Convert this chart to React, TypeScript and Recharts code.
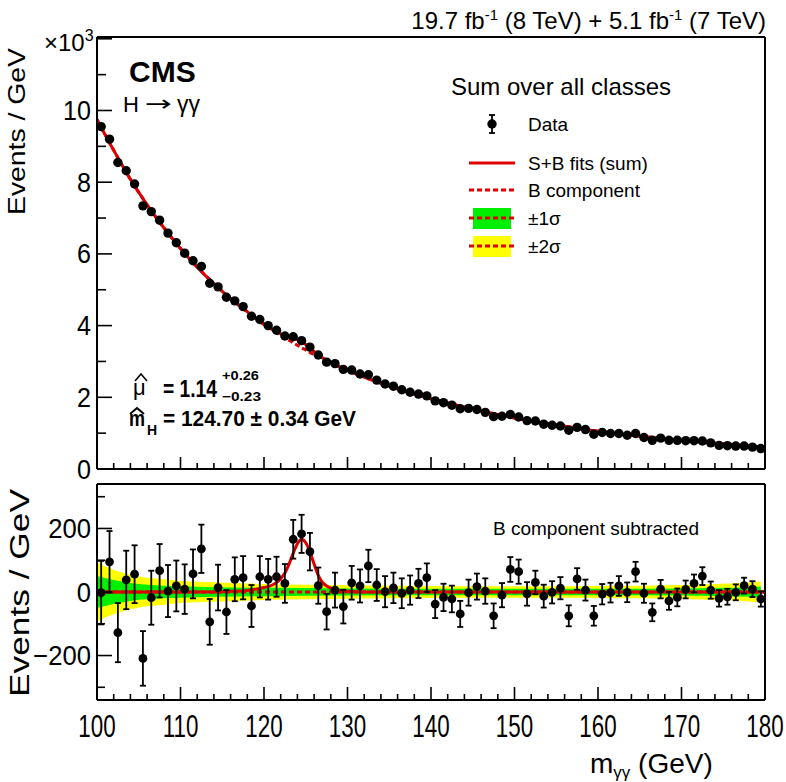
import React from "react";
import { Area, ComposedChart, ErrorBar, Line, Scatter, XAxis, YAxis } from "recharts";

const FONT = "'Liberation Sans', Arial, Helvetica, sans-serif";
const RED = "#dd0000";
const W = 786;
const H = 782;

// bin centres (GeV)
const massBins = [
  100.5, 101.5, 102.5, 103.5, 104.5, 105.5, 106.5, 107.5, 108.5, 109.5,
  110.5, 111.5, 112.5, 113.5, 114.5, 115.5, 116.5, 117.5, 118.5, 119.5,
  120.5, 121.5, 122.5, 123.5, 124.5, 125.5, 126.5, 127.5, 128.5, 129.5,
  130.5, 131.5, 132.5, 133.5, 134.5, 135.5, 136.5, 137.5, 138.5, 139.5,
  140.5, 141.5, 142.5, 143.5, 144.5, 145.5, 146.5, 147.5, 148.5, 149.5,
  150.5, 151.5, 152.5, 153.5, 154.5, 155.5, 156.5, 157.5, 158.5, 159.5,
  160.5, 161.5, 162.5, 163.5, 164.5, 165.5, 166.5, 167.5, 168.5, 169.5,
  170.5, 171.5, 172.5, 173.5, 174.5, 175.5, 176.5, 177.5, 178.5, 179.5,
];

// events / GeV, x10^3
const eventsK = [
  9.55, 9.2, 8.55, 8.32, 7.95, 7.34, 7.18, 6.94, 6.58, 6.31,
  6.02, 5.81, 5.65, 5.18, 5.08, 4.79, 4.69, 4.53, 4.26, 4.17,
  4.0, 3.87, 3.71, 3.69, 3.58, 3.4, 3.18, 2.98, 2.94, 2.78,
  2.76, 2.65, 2.63, 2.48, 2.37, 2.31, 2.21, 2.14, 2.09, 2.04,
  1.9, 1.85, 1.78, 1.68, 1.69, 1.66, 1.58, 1.46, 1.47, 1.52,
  1.45, 1.35, 1.34, 1.25, 1.22, 1.2, 1.08, 1.16, 1.1, 0.97,
  1.02, 0.99, 0.99, 0.94, 0.99, 0.88, 0.8, 0.86, 0.8, 0.8,
  0.79, 0.79, 0.78, 0.73, 0.66, 0.65, 0.64, 0.64, 0.61, 0.57,
];

// data minus B component, events / GeV
const residual = [
  -2, 95, -128, 38, 56, -209, -18, 67, 3, 19,
  9, 57, 136, -94, 14, -63, 40, 45, -44, 48,
  40, 48, 27, 166, 183, 127, 20, -62, 6, -46,
  29, 19, 82, 22, 1, 13, -4, 6, 27, 45,
  -38, -17, -22, -69, -2, 17, 3, -75, -10, 71,
  64, -6, 30, -13, -1, 12, -75, 41, 6, -75,
  -7, -2, 19, -1, 64, -4, -64, 9, -28, -17,
  8, 27, 50, 6, -20, -15, -1, 20, 9, -22,
];

const statErr = [
  100, 97, 93, 92, 91, 86, 85, 84, 82, 80,
  78, 77, 76, 72, 72, 69, 69, 68, 66, 65,
  64, 63, 61, 61, 60, 59, 57, 56, 55, 53,
  53, 52, 51, 50, 49, 48, 47, 46, 46, 45,
  44, 43, 42, 41, 41, 41, 40, 39, 38, 39,
  38, 37, 37, 36, 35, 35, 33, 34, 33, 31,
  32, 31, 31, 31, 31, 30, 28, 29, 28, 28,
  28, 28, 28, 27, 26, 25, 25, 25, 25, 24,
];

// fitted curves
const fitMass = [
  100, 102, 104, 106, 108, 110, 112, 114, 116, 118, 119, 120, 121, 121.5, 122,
  122.5, 123, 123.5, 124, 124.5, 125, 125.5, 126, 126.5, 127, 127.5, 128, 128.5,
  129, 130, 132, 134, 136, 138, 140, 142, 144, 146, 148, 150, 152, 154, 156, 158,
  160, 162, 164, 166, 168, 170, 172, 174, 176, 178, 180,
];
const bkgFitK = [
  9.75, 8.89, 8.08, 7.37, 6.73, 6.15, 5.63, 5.17, 4.75, 4.38, 4.2, 4.03, 3.88, 3.8, 3.73,
  3.66, 3.59, 3.52, 3.45, 3.38, 3.32, 3.25, 3.19, 3.13, 3.07, 3.02, 2.96, 2.91,
  2.85, 2.75, 2.56, 2.39, 2.23, 2.09, 1.96, 1.84, 1.73, 1.62, 1.52, 1.42, 1.34, 1.26, 1.19, 1.12,
  1.05, 0.99, 0.94, 0.89, 0.85, 0.8, 0.76, 0.72, 0.68, 0.65, 0.61,
];
const sigFit = [
  0, 0, 0, 0, 0, 0, 0, 0, 2, 5, 9, 14, 22, 30, 42,
  60, 88, 122, 152, 166, 155, 127, 88, 52, 30, 19, 12, 8,
  5, 2, 0, 0, 0, 0, 0, 0, 0, 0, 0, 0, 0, 0, 0, 0,
  0, 0, 0, 0, 0, 0, 0, 0, 0, 0, 0,
];

// uncertainty bands on the B component (half widths, events / GeV)
const bandMass = [100, 101, 102, 103, 104, 106, 108, 110, 114, 120, 130, 140, 150, 160, 170, 175, 178, 179.5];
const sigma1 = [50, 44, 38, 33, 28, 23, 20, 18, 15, 13, 11, 10, 10, 10, 11, 13, 15, 17];
const sigma2 = [93, 80, 70, 61, 54, 45, 40, 35, 31, 25, 21, 19, 18, 19, 22, 26, 30, 33];

const xTicks = [
  100, 102, 104, 106, 108, 110, 112, 114, 116, 118, 120, 122, 124, 126, 128, 130, 132, 134, 136, 138,
  140, 142, 144, 146, 148, 150, 152, 154, 156, 158, 160, 162, 164, 166, 168, 170, 172, 174, 176, 178, 180,
];
const xMajors = [100, 110, 120, 130, 140, 150, 160, 170, 180];
const topYTicks = [0, 1, 2, 3, 4, 5, 6, 7, 8, 9, 10, 11, 12];
const topYMajors = [0, 2, 4, 6, 8, 10, 12];
const topYLabels = [0, 2, 4, 6, 8, 10];
const botYTicks = [-300, -200, -100, 0, 100, 200, 300];
const botYMajors = [-200, 0, 200];

const topPoints = massBins.map((m, i) => ({ x: m, y: eventsK[i] }));
const botPoints = massBins.map((m, i) => ({ x: m, y: residual[i], e: statErr[i] }));
const fitTop = fitMass.map((m, i) => ({ x: m, sb: bkgFitK[i] + sigFit[i] / 1000, b: bkgFitK[i] }));
const fitBot = fitMass.map((m, i) => ({ x: m, s: sigFit[i], b: 0 }));
const band = bandMass.map((m, i) => ({
  x: m,
  s1: [-sigma1[i], sigma1[i]],
  s2: [-sigma2[i], sigma2[i]],
}));

function AxisTick(props: any) {
  const { x, y, payload, side, majors, labels, majorLen, minorLen, fontSize = 27, sx = 1 } = props;
  const v = payload.value;
  const len = majors.includes(v) ? majorLen : minorLen;
  let x2 = x;
  let y2 = y;
  if (side === "bottom") y2 = y - len;
  if (side === "top") y2 = y + len;
  if (side === "left") x2 = x + len;
  if (side === "right") x2 = x - len;
  let label = null;
  if (labels && labels.includes(v)) {
    const txt = v < 0 ? `\u2212${Math.abs(v)}` : String(v);
    if (side === "bottom") {
      label = (
        <text transform={`translate(${x},${y + 37}) scale(${sx},1)`} textAnchor="middle" fontSize={fontSize} fontFamily={FONT} fill="#000">
          {txt}
        </text>
      );
    } else if (side === "left") {
      label = (
        <text transform={`translate(${x - 6},${y + 9.5}) scale(${sx},1)`} textAnchor="end" fontSize={fontSize} fontFamily={FONT} fill="#000">
          {txt}
        </text>
      );
    }
  }
  return (
    <g>
      <line x1={x} y1={y} x2={x2} y2={y2} stroke="#000" strokeWidth={1.6} />
      {label}
    </g>
  );
}

const dot = (r: number) => (p: any) => <circle cx={p.cx} cy={p.cy} r={r} fill="#000" />;
const frame = { stroke: "#000", strokeWidth: 2 };

function TopPanel() {
  return (
    <ComposedChart width={W} height={H} margin={{ top: 36, right: 20, bottom: 312, left: 96 }} style={{ position: "absolute", left: 0, top: 0 }}>
      <XAxis
        dataKey="x"
        type="number"
        domain={[100, 180]}
        ticks={xTicks}
        interval={0}
        height={1}
        tickSize={0}
        tickMargin={0}
        axisLine={frame}
        tickLine={false}
        tick={(p: any) => <AxisTick {...p} side="bottom" majors={xMajors} majorLen={12} minorLen={6} />}
        allowDataOverflow
      />
      <XAxis xAxisId="top" orientation="top" type="number" domain={[100, 180]} ticks={xTicks} height={1} tick={false} tickLine={false} axisLine={frame} />
      <YAxis
        type="number"
        domain={[0, 12.05]}
        ticks={topYTicks}
        interval={0}
        width={1}
        tickSize={0}
        tickMargin={0}
        axisLine={frame}
        tickLine={false}
        tick={(p: any) => <AxisTick {...p} side="left" majors={topYMajors} labels={topYLabels} majorLen={15} minorLen={9} fontSize={27} sx={0.93} />}
        allowDataOverflow
      />
      <YAxis yAxisId="right" orientation="right" type="number" domain={[0, 12.05]} ticks={topYTicks} width={1} tick={false} tickLine={false} axisLine={frame} />
      <Line data={fitTop} dataKey="b" type="monotone" stroke={RED} strokeWidth={3} strokeDasharray="5 3" dot={false} isAnimationActive={false} />
      <Line data={fitTop} dataKey="sb" type="monotone" stroke={RED} strokeWidth={3} dot={false} isAnimationActive={false} />
      <Scatter data={topPoints} dataKey="y" shape={dot(4.7)} isAnimationActive={false} />
    </ComposedChart>
  );
}

function BottomPanel() {
  return (
    <ComposedChart width={W} height={H} margin={{ top: 483, right: 20, bottom: 81, left: 96 }} style={{ position: "absolute", left: 0, top: 0 }}>
      <XAxis
        dataKey="x"
        type="number"
        domain={[100, 180]}
        ticks={xTicks}
        interval={0}
        height={1}
        tickSize={0}
        tickMargin={0}
        axisLine={frame}
        tickLine={false}
        tick={(p: any) => <AxisTick {...p} side="bottom" majors={xMajors} labels={xMajors} majorLen={13} minorLen={6} fontSize={32} sx={0.7} />}
        allowDataOverflow
      />
      <XAxis
        xAxisId="top"
        orientation="top"
        type="number"
        domain={[100, 180]}
        ticks={xTicks}
        interval={0}
        height={1}
        tickSize={0}
        tickMargin={0}
        axisLine={frame}
        tickLine={false}
        tick={(p: any) => <AxisTick {...p} side="top" majors={xMajors} majorLen={13} minorLen={6} />}
      />
      <YAxis
        type="number"
        domain={[-340, 340]}
        ticks={botYTicks}
        interval={0}
        width={1}
        tickSize={0}
        tickMargin={0}
        axisLine={frame}
        tickLine={false}
        tick={(p: any) => <AxisTick {...p} side="left" majors={botYMajors} labels={botYMajors} majorLen={15} minorLen={8} fontSize={27} sx={0.95} />}
        allowDataOverflow
      />
      <YAxis
        yAxisId="right"
        orientation="right"
        type="number"
        domain={[-340, 340]}
        ticks={botYTicks}
        interval={0}
        width={1}
        tickSize={0}
        tickMargin={0}
        axisLine={frame}
        tickLine={false}
        tick={(p: any) => <AxisTick {...p} side="right" majors={botYMajors} majorLen={12} minorLen={6} />}
      />
      <Area data={band} dataKey="s2" type="monotone" fill="#ffff00" fillOpacity={1} stroke="none" isAnimationActive={false} />
      <Area data={band} dataKey="s1" type="monotone" fill="#00ee00" fillOpacity={1} stroke="none" isAnimationActive={false} />
      <Line data={fitBot} dataKey="b" type="linear" stroke={RED} strokeWidth={3} strokeDasharray="5 3" dot={false} isAnimationActive={false} />
      <Line data={fitBot} dataKey="s" type="monotone" stroke={RED} strokeWidth={3} dot={false} isAnimationActive={false} />
      <Scatter data={botPoints} dataKey="y" shape={dot(4.4)} isAnimationActive={false}>
        <ErrorBar dataKey="e" direction="y" width={3} stroke="#000" strokeWidth={1.8} />
      </Scatter>
    </ComposedChart>
  );
}

function Overlay() {
  const legendX = 528;
  return (
    <svg width={W} height={H} style={{ position: "absolute", left: 0, top: 0 }} fontFamily={FONT} fill="#000">
      <text x={766} y={29} fontSize={24} textAnchor="end">
        19.7 fb<tspan dy={-9} fontSize={15}>-1</tspan>
        <tspan dy={9}> (8 TeV) + 5.1 fb</tspan>
        <tspan dy={-9} fontSize={15}>-1</tspan>
        <tspan dy={9}> (7 TeV)</tspan>
      </text>
      <text x={44} y={51} fontSize={24}>
        ×10<tspan dy={-10} fontSize={16}>3</tspan>
      </text>
      <text transform="translate(25,215) rotate(-90)" fontSize={24} textLength={167} lengthAdjust="spacingAndGlyphs">
        Events / GeV
      </text>
      <text transform="translate(29,697) rotate(-90)" fontSize={27} textLength={208} lengthAdjust="spacingAndGlyphs">
        Events / GeV
      </text>
      <text x={590} y={773} fontSize={28}>
        m<tspan dy={5} fontSize={17}>γγ</tspan>
        <tspan dy={-5}> (GeV)</tspan>
      </text>

      <text x={129} y={82} fontSize={30} fontWeight="bold">CMS</text>
      <text x={123} y={112} fontSize={22}>H</text>
      <text x={145} y={111} fontSize={22} fontFamily="'DejaVu Sans', sans-serif" textLength={27} lengthAdjust="spacingAndGlyphs">→</text>
      <text x={177} y={112} fontSize={23}>γγ</text>

      <text x={133} y={395} fontSize={22}>μ</text>
      <path d="M135,381 L141,374 L147,381" fill="none" stroke="#000" strokeWidth={1.5} />
      <text x={163} y={397} fontSize={23} fontWeight="bold" textLength={54} lengthAdjust="spacingAndGlyphs">= 1.14</text>
      <text x={222} y={380} fontSize={13} fontWeight="bold" textLength={37} lengthAdjust="spacingAndGlyphs">+0.26</text>
      <text x={222} y={401} fontSize={13} fontWeight="bold" textLength={39} lengthAdjust="spacingAndGlyphs">−0.23</text>

      <text x={129} y={426} fontSize={22} fontWeight="bold" textLength={16} lengthAdjust="spacingAndGlyphs">m</text>
      <path d="M130,414 L137,408 L144,414" fill="none" stroke="#000" strokeWidth={2} />
      <text x={147} y={435} fontSize={14} fontWeight="bold">H</text>
      <text x={163} y={426} fontSize={22} fontWeight="bold" textLength={193} lengthAdjust="spacingAndGlyphs">= 124.70 ± 0.34 GeV</text>

      <text x={451} y={95} fontSize={24}>Sum over all classes</text>

      <line x1={492} y1={115} x2={492} y2={133} stroke="#000" strokeWidth={1.8} />
      <line x1={489} y1={115} x2={495} y2={115} stroke="#000" strokeWidth={1.8} />
      <line x1={489} y1={133} x2={495} y2={133} stroke="#000" strokeWidth={1.8} />
      <circle cx={492} cy={124} r={4.7} fill="#000" />
      <text x={legendX} y={131} fontSize={19}>Data</text>

      <line x1={469} y1={163} x2={515} y2={163} stroke={RED} strokeWidth={3} />
      <text x={legendX} y={170} fontSize={19}>S+B fits (sum)</text>

      <line x1={469} y1={190} x2={515} y2={190} stroke={RED} strokeWidth={3} strokeDasharray="5 3" />
      <text x={legendX} y={197} fontSize={19}>B component</text>

      <rect x={473} y={208} width={38} height={21} fill="#00ee00" />
      <line x1={469} y1={218} x2={515} y2={218} stroke={RED} strokeWidth={3} strokeDasharray="5 3" />
      <text x={legendX} y={225} fontSize={19}>±1σ</text>

      <rect x={473} y={236} width={38} height={21} fill="#ffff00" />
      <line x1={469} y1={246} x2={515} y2={246} stroke={RED} strokeWidth={3} strokeDasharray="5 3" />
      <text x={legendX} y={253} fontSize={19}>±2σ</text>

      <text x={493} y={535} fontSize={19}>B component subtracted</text>
    </svg>
  );
}

export default function App() {
  return (
    <div style={{ position: "absolute", left: 0, top: 0, width: W, height: H, background: "#fff" }}>
      <TopPanel />
      <BottomPanel />
      <Overlay />
    </div>
  );
}
